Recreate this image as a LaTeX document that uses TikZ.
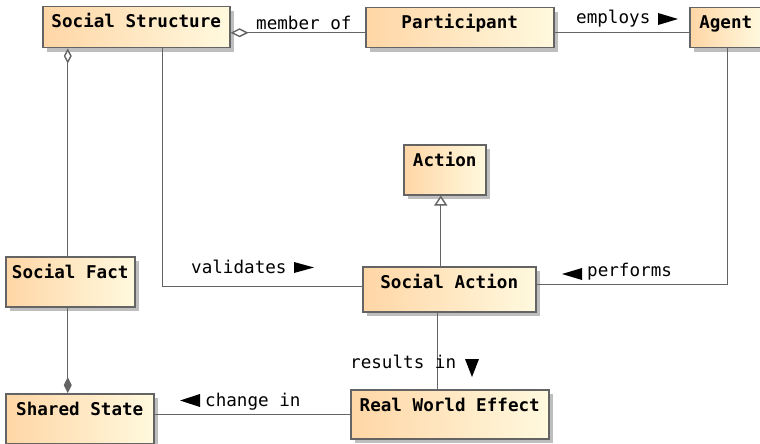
\documentclass[tikz,border=0pt]{standalone}
\usepackage{fontspec}
\usetikzlibrary{arrows.meta,shadows}
\newfontfamily\umlmono{DejaVu Sans Mono}
\definecolor{peach}{RGB}{255,214,166}
\definecolor{cream}{RGB}{255,249,222}
\definecolor{edge}{RGB}{100,100,100}
\definecolor{shade}{RGB}{190,190,190}
\tikzset{
  classbox/.style={draw=edge, line width=1.5pt, left color=peach, right color=cream,
    inner sep=0pt, anchor=north west,
    drop shadow={shadow xshift=4pt, shadow yshift=-4pt, fill=shade, opacity=1},
    label={[classname]north:#1}},
  classname/.style={anchor=base, yshift=-22pt, inner sep=0pt,
    font=\umlmono\bfseries\fontsize{17.6}{20}\selectfont},
  assoc/.style={draw=edge, line width=1.4pt},
  role/.style={anchor=base west, inner sep=0pt,
    font=\umlmono\fontsize{17.6}{20}\selectfont},
  dirmark/.style={fill=black},
}
\begin{document}
\begin{tikzpicture}[x=1pt,y=-1pt]
\useasboundingbox (0,0) rectangle (760,444);
\clip (0,0) rectangle (760,444);
\fill[white] (0,0) rectangle (760,444);

% classes
\node[classbox=Social Structure, minimum width=187pt, minimum height=41pt] (ss) at (42,6) {};
\node[classbox=Participant, minimum width=188pt, minimum height=40pt] (part) at (365,7) {};
\node[classbox=Agent, minimum width=72pt, minimum height=40pt] (agent) at (689,7) {};
\node[classbox=Action, minimum width=82pt, minimum height=50pt] (action) at (403,144) {};
\node[classbox=Social Fact, minimum width=129pt, minimum height=50pt] (sfact) at (5,256) {};
\node[classbox=Social Action, minimum width=173pt, minimum height=45pt] (saction) at (362,266) {};
\node[classbox=Shared State, minimum width=148pt, minimum height=50pt] (shared) at (5,393) {};
\node[classbox=Real World Effect, minimum width=198pt, minimum height=49pt] (rwe) at (350,389) {};

% helper points on the class borders
\coordinate (ssA) at ([yshift=-5.5pt]ss.east);
\coordinate (ssF) at ([xshift=-2.5pt]sfact.north);
\coordinate (sfS) at ([xshift=-2.5pt]sfact.south);
\coordinate (ssV) at ([xshift=26.5pt]ss.south);
\coordinate (saV) at ([yshift=2.5pt]saction.west);
\coordinate (gx) at ([xshift=-4pt]action.south);
\coordinate (saP) at ([yshift=4.5pt]saction.east);
\coordinate (agP) at ([xshift=2pt]agent.south);
\coordinate (rx) at ([xshift=-11.5pt]saction.south);
\coordinate (shC) at ([yshift=4pt]shared.east);

% connectors
\draw[assoc, {Diamond[open, fill=white, length=18pt, width=9pt]}-] (ssA) -- (ssA -| part.west);
\draw[assoc] ([yshift=-5pt]part.east) -- ([yshift=-5pt]agent.west);
\draw[assoc, {Diamond[open, fill=white, length=15pt, width=8pt]}-] (ssF |- ss.south) -- (ssF);
\draw[assoc] (ssV) |- (saV);
\draw[assoc, -{Diamond[length=16pt, width=8pt]}] (sfS) -- (sfS |- shared.north);
\draw[assoc, -{Triangle[open, fill=white, length=10pt, width=13pt]}] (saction.north -| gx) -- (gx);
\draw[assoc] (saP) -| (agP);
\draw[assoc] (rx) -- (rx |- rwe.north);
\draw[assoc] (shC) -- (shC -| rwe.west);

% role names
\node[role] (lmember) at (256,29.5) {member of};
\node[role] (lemploys) at (576,23.5) {employs};
\node[role] (lvalid) at (191,273.3) {validates};
\node[role] (lchange) at (205,406.7) {change in};
\node[role] (lperf) at (587,276.7) {performs};
\node[role] (lresult) at (350,368.3) {results in};

% reading-direction marks
\fill[dirmark] (658,13) -- (678,19) -- (658,25) -- cycle;
\fill[dirmark] (294,262) -- (314,267.5) -- (294,273) -- cycle;
\fill[dirmark] (200,394) -- (180,400.5) -- (200,407) -- cycle;
\fill[dirmark] (582,268) -- (562,274) -- (582,280) -- cycle;
\fill[dirmark] (465,359) -- (479,359) -- (472,377) -- cycle;
\end{tikzpicture}
\end{document}
